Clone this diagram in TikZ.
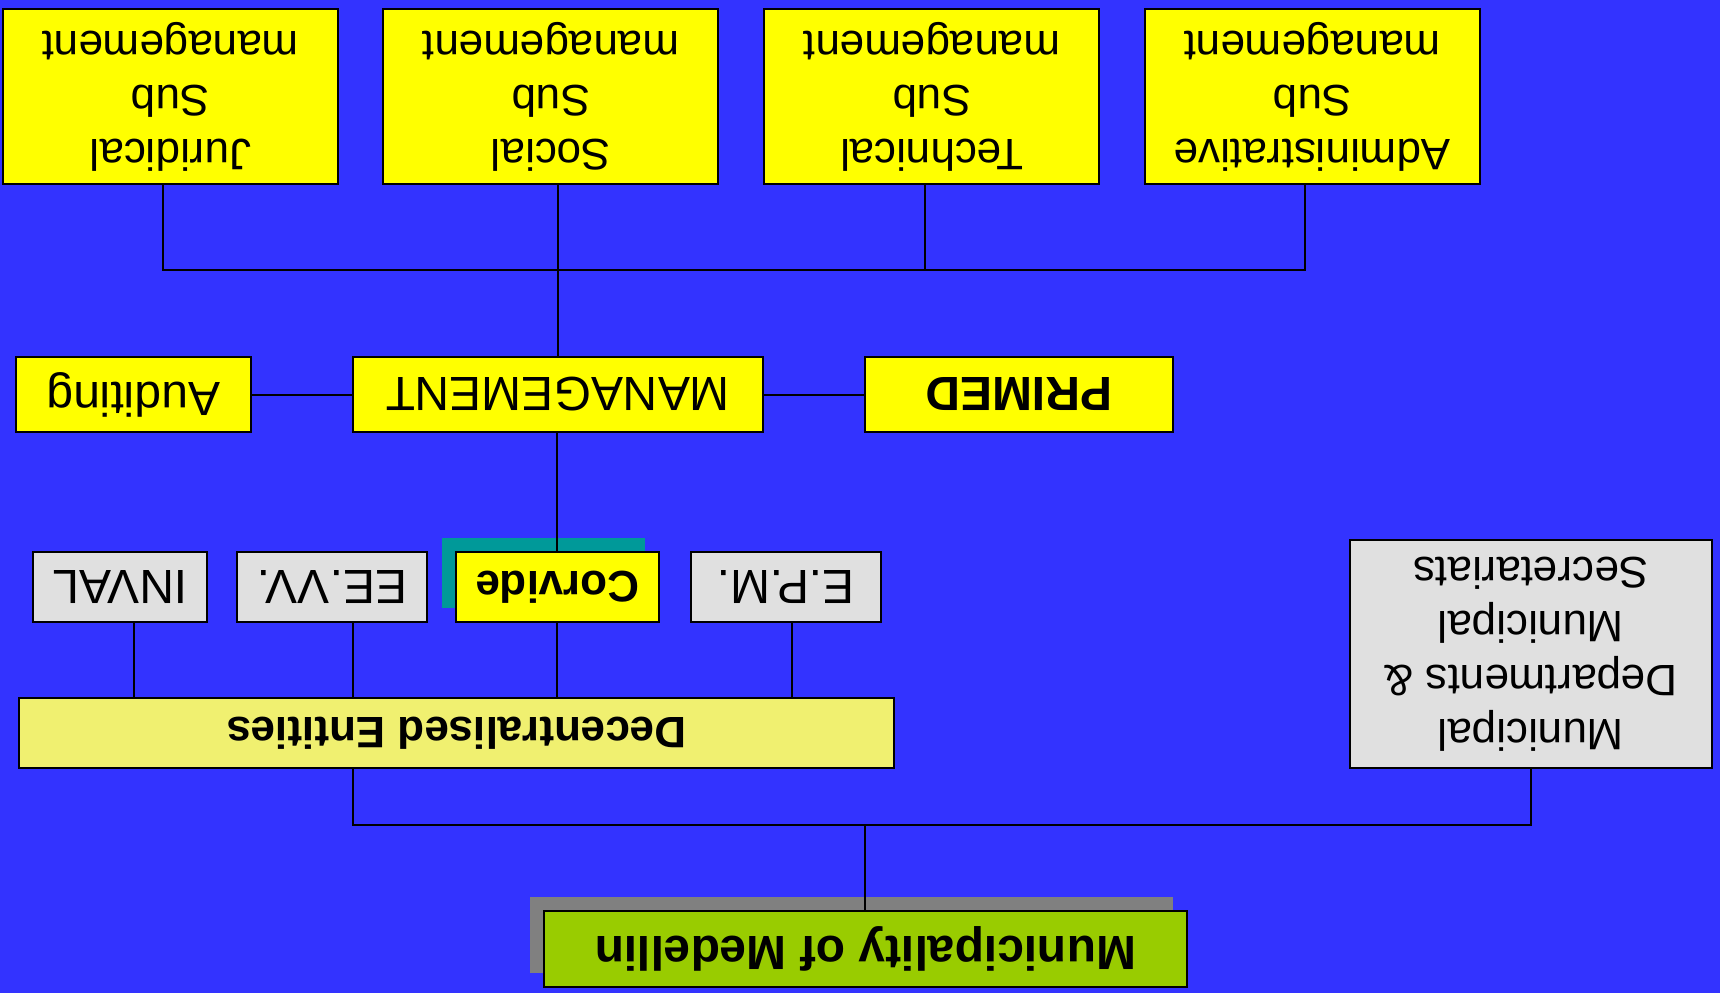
\documentclass[tikz,border=0pt]{standalone}
\usepackage{fontspec}
\setmainfont{Liberation Sans}
\usetikzlibrary{shadows}

\definecolor{slideblue}{RGB}{51,51,255}
\definecolor{boxyellow}{RGB}{255,255,0}
\definecolor{boxgray}{RGB}{224,224,224}
\definecolor{paleyellow}{RGB}{240,240,112}
\definecolor{munigreen}{RGB}{153,204,0}
\definecolor{shadowteal}{RGB}{0,153,153}
\definecolor{shadowgray}{RGB}{128,128,128}

\tikzset{
    box/.style={draw=black, line width=1pt, align=center, inner sep=0pt},
    ybox/.style={box, fill=boxyellow},
    gbox/.style={box, fill=boxgray},
    small/.style={font=\fontsize{22}{27}\selectfont},
    bold/.style={font=\fontsize{24}{27}\selectfont\bfseries},
    smallbold/.style={font=\fontsize{22}{27}\selectfont\bfseries},
    boxshadow/.style={drop shadow={shadow xshift=-7pt, shadow yshift=7pt, fill=#1, opacity=1}},
    link/.style={draw=black, line width=1pt},
}

\begin{document}
\begin{tikzpicture}[x=1pt, y=1pt, font=\fontsize{24}{27}\selectfont]
\begin{scope}[rotate=180, transform shape]
    \fill[slideblue] (0,0) rectangle (860,-496.5);
    \coordinate (BUSA) at (0,-84);
    \coordinate (BUSB) at (0,-361.5);

    \node[box, fill=munigreen, bold, boxshadow=shadowgray, minimum width=321.5pt, minimum height=38pt] (MUN) at (427.25,-22) {Municipality of Medellin};

    \node[box, fill=paleyellow, smallbold, minimum width=437.5pt, minimum height=35pt] (DEC) at (631.75,-130) {Decentralised Entities};
    \node[gbox, small, minimum width=181pt, minimum height=114pt] (MDS) at (94.5,-169.5) {Municipal\\Departments \&\\Municipal\\Secretariats};

    \node[gbox, minimum width=87pt, minimum height=35pt] (INVAL) at (800,-203) {INVAL};
    \node[gbox, minimum width=95pt, minimum height=35pt] (EEVV) at (694,-203) {EE.VV.};
    \node[ybox, smallbold, boxshadow=shadowteal, minimum width=101.5pt, minimum height=35pt] (CORV) at (581.25,-203) {Corvide};
    \node[gbox, minimum width=95pt, minimum height=35pt] (EPM) at (467,-203) {E.P.M.};

    \node[ybox, minimum width=117.5pt, minimum height=37.5pt] (AUD) at (793.25,-299.25) {Auditing};
    \node[ybox, minimum width=205pt, minimum height=37.5pt] (MGT) at (581,-299.25) {MANAGEMENT};
    \node[ybox, bold, minimum width=154pt, minimum height=37.5pt] (PRIMED) at (350.5,-299.25) {PRIMED};

    \node[ybox, small, minimum width=167.5pt, minimum height=87.5pt] (JUR) at (774.75,-448.25) {Juridical\\Sub\\management};
    \node[ybox, small, minimum width=167.5pt, minimum height=87.5pt] (SOC) at (584.5,-448.25) {Social\\Sub\\management};
    \node[ybox, small, minimum width=167.5pt, minimum height=87.5pt] (TEC) at (394,-448.25) {Technical\\Sub\\management};
    \node[ybox, small, minimum width=167.5pt, minimum height=87.5pt] (ADM) at (203.75,-448.25) {Administrative\\Sub\\management};

    \draw[link] (MUN.south) -- (MUN.south |- BUSA);
    \draw[link] (MDS.north) |- ([xshift=-10.5pt]EEVV.south |- BUSA) -- ([xshift=-10.5pt]EEVV.south |- DEC.north);
    \draw[link] ([xshift=-7pt]INVAL.north) -- ([xshift=-7pt]INVAL.north |- DEC.south);
    \draw[link] ([xshift=-10.5pt]EEVV.north) -- ([xshift=-10.5pt]EEVV.north |- DEC.south);
    \draw[link] (CORV.north) -- (CORV.north |- DEC.south);
    \draw[link] ([xshift=-3pt]EPM.north) -- ([xshift=-3pt]EPM.north |- DEC.south);
    \draw[link] (CORV.south) -- (CORV.south |- MGT.north);
    \draw[link] (AUD) -- (MGT) (MGT) -- (PRIMED);
    \draw[link] (MGT.south) -- (MGT.south |- SOC.north);
    \draw[link] ([xshift=3.5pt]JUR.north) |- ([xshift=3.5pt]ADM.north |- BUSB) -- ([xshift=3.5pt]ADM.north);
    \draw[link] ([xshift=3.5pt]TEC.north) -- ([xshift=3.5pt]TEC.north |- BUSB);
\end{scope}
\end{tikzpicture}
\end{document}
